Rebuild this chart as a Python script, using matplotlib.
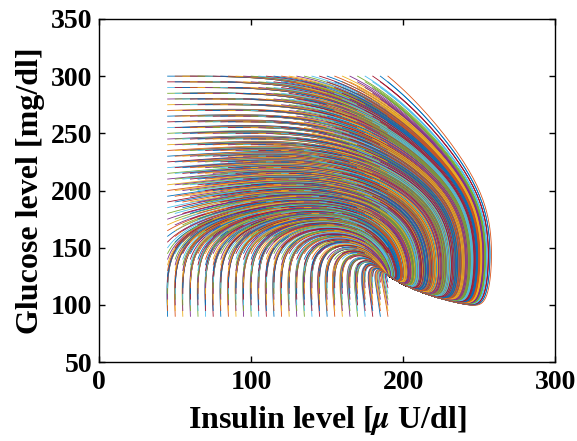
import numpy as np
import matplotlib
matplotlib.use('Agg')
import matplotlib.pyplot as plt

# Initial conditions: grid of insulin / glucose starting levels
insulin0 = np.arange(45, 191, 5)      # [uU/dl]
glucose0 = np.arange(90, 301, 5)      # [mg/dl]

# Model parameters
G_eq = 126.0      # glucose set point [mg/dl]
I_eq = 190.0      # steady state insulin [uU/dl]
k = 0.1           # insulin independent glucose uptake
R = 30.5          # hepatic glucose production
m = 2.736         # insulin action gain
K_I = 186.5       # insulin action half level
h_I = 4.0         # insulin action Hill coefficient
V = 108.0         # maximal insulin secretion rate
I_max = 300.0     # insulin ceiling
G_c = 190.0       # secretion threshold
w_G = 18.0        # secretion steepness
n_I = 0.01        # insulin clearance

t_end = 300.0
dt = 0.1

# MATLAB default colour order
colors = ['#0072BD', '#D95319', '#EDB120', '#7E2F8E', '#77AC30', '#4DBEEE', '#A2142F']


def secretion(G):
    return 1.0 / (1.0 + np.exp(-(G - G_c) / w_G))


S_eq = secretion(G_eq)


def rhs(G, I):
    f = I ** h_I / (K_I ** h_I + I ** h_I)
    dG = R - k * (1.0 + m * f) * G
    dI = V * (secretion(G) - S_eq) * (1.0 - I / I_max) - n_I * (I - I_eq)
    return dG, dI


# integrate every trajectory at once (RK4)
II, GG = np.meshgrid(insulin0, glucose0, indexing='ij')
G = GG.ravel().astype(float)
I = II.ravel().astype(float)
nsteps = int(t_end / dt)
G_hist = np.empty((nsteps + 1, G.size))
I_hist = np.empty((nsteps + 1, G.size))
G_hist[0], I_hist[0] = G, I
for n in range(nsteps):
    k1g, k1i = rhs(G, I)
    k2g, k2i = rhs(G + 0.5 * dt * k1g, I + 0.5 * dt * k1i)
    k3g, k3i = rhs(G + 0.5 * dt * k2g, I + 0.5 * dt * k2i)
    k4g, k4i = rhs(G + dt * k3g, I + dt * k3i)
    G = G + dt / 6 * (k1g + 2 * k2g + 2 * k3g + k4g)
    I = I + dt / 6 * (k1i + 2 * k2i + 2 * k3i + k4i)
    G_hist[n + 1], I_hist[n + 1] = G, I

plt.rcParams['font.family'] = 'Liberation Serif'
plt.rcParams['font.weight'] = 'bold'
plt.rcParams['mathtext.fontset'] = 'stix'

fig = plt.figure(figsize=(5.77, 4.41), dpi=100)
ax = fig.add_axes([0.172, 0.179, 0.790, 0.778])
for j in range(G.size):
    ax.plot(I_hist[:, j], G_hist[:, j], color=colors[j % len(colors)], lw=0.6)

ax.set_xlim(0, 300)
ax.set_ylim(50, 350)
ax.set_xticks([0, 100, 200, 300])
ax.set_yticks(np.arange(50, 351, 50))
ax.tick_params(direction='in', top=True, right=True, labelsize=20, length=4.5, width=1)
ax.tick_params(axis='x', pad=6)
ax.tick_params(axis='y', pad=5)
for sp in ax.spines.values():
    sp.set_linewidth(1.0)
ax.set_xlabel(r'Insulin level [$\mu$ U/dl]', fontsize=23, fontweight='bold', labelpad=6)
ax.set_ylabel('Glucose level [mg/dl]', fontsize=23, fontweight='bold', labelpad=4)

fig.savefig('out.png', dpi=100)
